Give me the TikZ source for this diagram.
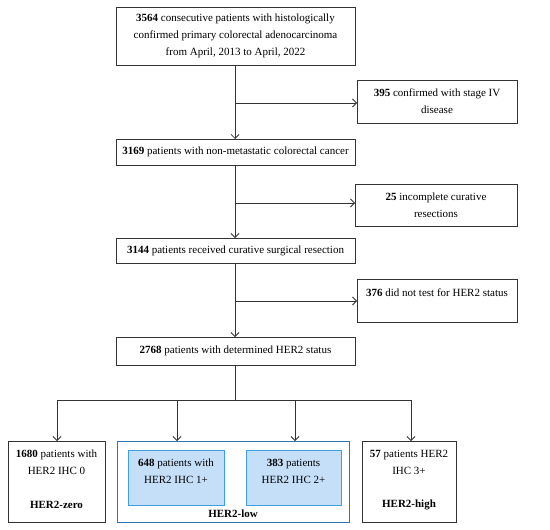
\documentclass[tikz,border=0pt]{standalone}
\usepackage{fontspec}
\setmainfont{Liberation Serif}
\usetikzlibrary{arrows.meta}
\definecolor{lineg}{HTML}{333333}
\definecolor{outerb}{HTML}{2E75B6}
\definecolor{innerb}{HTML}{3FA0E0}
\definecolor{innerf}{HTML}{C6DFF9}
\begin{document}
\begin{tikzpicture}[x=1pt,y=-1pt,
  box/.style={draw=lineg, line width=0.9pt, rectangle, inner sep=0pt, outer sep=0pt},
  inbox/.style={draw=innerb, fill=innerf, line width=0.9pt, rectangle, inner sep=0pt, outer sep=0pt},
  obox/.style={draw=outerb, line width=0.9pt, rectangle, inner sep=0pt, outer sep=0pt},
  conn/.style={draw=lineg, line width=0.9pt},
  arr/.style={conn, -{Straight Barb[length=4pt,width=8pt,line width=0.8pt]}},
  txt/.style={font=\fontsize{11}{17}\selectfont, align=center, inner sep=0pt}]
\useasboundingbox (0,0) rectangle (550,530);
% main column
\node[box, txt, minimum width=239pt, minimum height=58pt] (t1) at (235.5,36)
  {\textbf{3564} consecutive patients with histologically\\confirmed primary colorectal adenocarcinoma\\from April, 2013 to April, 2022};
\node[box, txt, minimum width=239pt, minimum height=26pt] (t2) at (235.5,152)
  {\textbf{3169} patients with non-metastatic colorectal cancer};
\node[box, txt, minimum width=239pt, minimum height=25pt] (t3) at (235.5,250.5)
  {\textbf{3144} patients received curative surgical resection};
\node[box, txt, minimum width=239pt, minimum height=28pt] (t4) at (235.5,351)
  {\textbf{2768} patients with determined HER2 status};
% exclusions
\node[box, txt, minimum width=160pt, minimum height=43pt] (e1) at (437,101.5)
  {\textbf{395} confirmed with stage IV\\disease};
\node[box, txt, minimum width=162pt, minimum height=42pt] (e2) at (436,205)
  {\textbf{25} incomplete curative\\resections};
\node[box, minimum width=160pt, minimum height=43pt] (e3) at (437,300.5) {};
\node[txt] (e3t) at (437,293) {\textbf{376} did not test for HER2 status};
% branch points
\coordinate (j1) at (235,103);
\coordinate (j2) at (235,203);
\coordinate (j3) at (235,301);
\coordinate (j4) at (235,400);
% connectors
\draw[arr] (t1.south -| j1) -- (t2.north -| j1);
\draw[arr] (j1) -- (j1 -| e1.west);
\draw[arr] (t2.south -| j2) -- (t3.north -| j2);
\draw[arr] (j2) -- (j2 -| e2.west);
\draw[arr] (t3.south -| j3) -- (t4.north -| j3);
\draw[arr] (j3) -- (j3 -| e3.west);
% bottom boxes
\node[box, minimum width=97pt, minimum height=81pt] (z) at (56.5,481.5) {};
\node[txt] (zt) at (56.5,462.5) {\textbf{1680} patients with\\HER2 IHC 0};
\node[txt] (zl) at (56.5,505) {\textbf{HER2-zero}};
\node[obox, minimum width=232pt, minimum height=81pt] (low) at (233,481.5) {};
\node[inbox, txt, minimum width=96pt, minimum height=55pt] (l1) at (176,477.5) {};
\node[txt] (l1t) at (176,471) {\textbf{648} patients with\\HER2 IHC 1+};
\node[inbox, txt, minimum width=95pt, minimum height=55pt] (l2) at (293.5,477.5) {};
\node[txt] (l2t) at (293.5,471) {\textbf{383} patients\\HER2 IHC 2+};
\node[txt] (ll) at (233,513.5) {\textbf{HER2-low}};
\node[box, minimum width=94pt, minimum height=81pt] (h) at (409,481.5) {};
\node[txt] (ht) at (409,462.5) {\textbf{57} patients HER2\\IHC 3+};
\node[txt] (hl) at (409,505) {\textbf{HER2-high}};
% split
\coordinate (jl) at (57,400);
\coordinate (ja) at (177,400);
\coordinate (jb) at (295,400);
\coordinate (jr) at (411,400);
\draw[conn] (t4.south -| j4) -- (j4);
\draw[conn] (jl) -- (jr);
\draw[arr] (jl) -- (jl |- z.north);
\draw[arr] (ja) -- (ja |- low.north);
\draw[arr] (jb) -- (jb |- low.north);
\draw[arr] (jr) -- (jr |- h.north);
\end{tikzpicture}
\end{document}
